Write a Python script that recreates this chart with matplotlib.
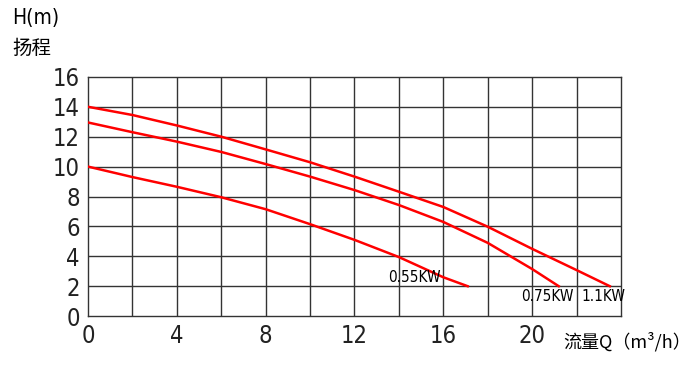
import matplotlib
matplotlib.use('Agg')
import matplotlib.pyplot as plt

# pump curves, flow Q (m3/h) vs head H (m)
q_110 = [0, 2, 4, 6, 8, 10, 12, 14, 16, 18, 20, 22, 23.5]
h_110 = [14.0, 13.45, 12.75, 12.0, 11.15, 10.29, 9.33, 8.32, 7.3, 5.98, 4.5, 3.08, 2.0]

q_075 = [0, 2, 4, 6, 8, 10, 12, 14, 16, 18, 20, 21.2]
h_075 = [12.95, 12.3, 11.67, 10.98, 10.17, 9.33, 8.43, 7.43, 6.3, 4.9, 3.15, 2.0]

q_055 = [0, 2, 4, 6, 8, 10, 12, 14, 16, 17.1]
h_055 = [10.0, 9.3, 8.65, 7.95, 7.15, 6.15, 5.1, 3.95, 2.6, 2.0]

x_ticks = [0, 4, 8, 12, 16, 20]
y_ticks = [0, 2, 4, 6, 8, 10, 12, 14, 16]

num_font = dict(family='DejaVu Sans', stretch='condensed', weight='light')
cjk_font = ['Noto Sans CJK SC', 'DejaVu Sans']

fig = plt.figure(figsize=(6.93, 3.75), dpi=100)
ax = fig.add_axes([0.127, 0.157, 0.769, 0.638])

ax.set_xlim(0, 24)
ax.set_ylim(0, 16)
for gx in range(2, 24, 2):
    ax.axvline(gx, color='#333333', lw=1.0, zorder=1)
for gy in range(2, 16, 2):
    ax.axhline(gy, color='#333333', lw=1.0, zorder=1)
for s in ax.spines.values():
    s.set_color('#333333')
    s.set_linewidth(1.0)

ax.plot(q_110, h_110, color='#ff0000', lw=1.8, zorder=3)
ax.plot(q_075, h_075, color='#ff0000', lw=1.8, zorder=3)
ax.plot(q_055, h_055, color='#ff0000', lw=1.8, zorder=3)

ax.set_xticks(x_ticks)
ax.set_yticks(y_ticks)
ax.set_xticklabels([str(v) for v in x_ticks], fontsize=17, color='#222222', **num_font)
ax.set_yticklabels([str(v) for v in y_ticks], fontsize=17, color='#222222', **num_font)
ax.tick_params(length=0, pad=6)

ax.text(14.7, 2.05, '0.55KW', fontsize=11, ha='center', va='bottom', zorder=4, **num_font)
ax.text(20.7, 1.3, '0.75KW', fontsize=11, ha='center', va='center', zorder=4, **num_font)
ax.text(23.2, 1.3, '1.1KW', fontsize=11, ha='center', va='center', zorder=4, **num_font)

fig.text(12 / 693, 1 - 18 / 375, 'H(m)', fontsize=15, va='center', ha='left', **num_font)
fig.text(12 / 693, 1 - 48 / 375, '扬程', family=cjk_font, fontsize=14, va='center', ha='left')
fig.text(563 / 693, 1 - 342 / 375, '流量Q（m³/h）', family=cjk_font, fontsize=13, va='center', ha='left')

fig.savefig('out.png', dpi=100)
